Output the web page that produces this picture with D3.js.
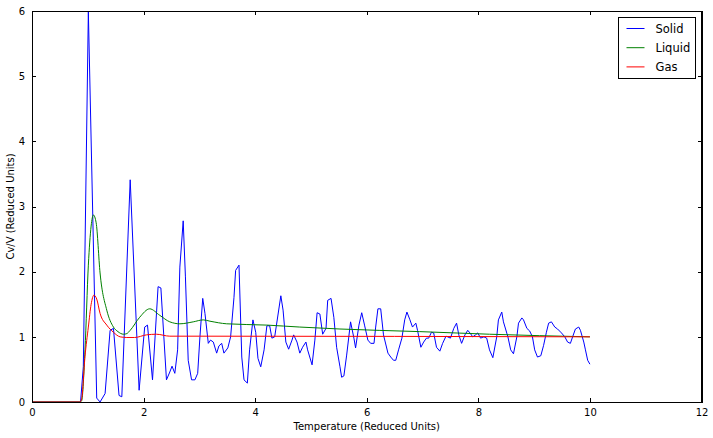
<!DOCTYPE html>
<html lang="en">
<head>
    <meta charset="UTF-8">
    <title>Cv/V vs Temperature</title>
    <script src="https://d3js.org/d3.v7.min.js"></script>
    <style>
        body {
            margin: 0;
            background: #ffffff;
            font-family: "DejaVu Sans", sans-serif;
        }
        .axis text {
            font-family: "DejaVu Sans", sans-serif;
            font-size: 10px;
            fill: #000;
        }
        .axis path, .axis line {
            stroke: #000;
            shape-rendering: crispEdges;
        }
    </style>
</head>
<body>
<script>
    // [temperature, Cv/V]
    const solid = [
        [0, 0], [0.84, 0], [0.87, 0], [0.92, 0.54], [1.01, 5.99], [1.16, 0.06], [1.22, 0], [1.31, 0.13],
        [1.40, 1.1], [1.46, 1.13], [1.56, 0.1], [1.61, 0.08], [1.76, 3.41], [1.92, 0.18], [2.02, 1.15],
        [2.07, 1.18], [2.16, 0.34], [2.26, 1.77], [2.31, 1.75], [2.41, 0.34], [2.47, 0.46], [2.51, 0.55],
        [2.56, 0.44], [2.61, 0.8], [2.65, 2.07], [2.71, 2.78], [2.75, 1.92], [2.80, 0.64], [2.86, 0.34],
        [2.92, 0.34], [2.97, 0.44], [3.01, 1.0], [3.06, 1.59], [3.10, 1.36], [3.16, 0.9], [3.20, 0.95],
        [3.25, 0.92], [3.31, 0.75], [3.35, 0.86], [3.40, 0.9], [3.44, 0.75], [3.51, 0.83], [3.56, 1.0],
        [3.62, 1.6], [3.65, 2.02], [3.71, 2.1], [3.76, 0.69], [3.80, 0.34], [3.86, 0.29], [3.90, 0.8],
        [3.96, 1.26], [4.01, 1.07], [4.05, 0.67], [4.10, 0.54], [4.16, 0.8], [4.21, 1.17], [4.26, 1.17],
        [4.30, 0.98], [4.35, 1.0], [4.46, 1.63], [4.50, 1.41], [4.55, 0.92], [4.60, 0.81], [4.66, 0.95],
        [4.69, 1.03], [4.75, 0.92], [4.80, 0.75], [4.85, 0.84], [4.91, 0.92], [4.94, 0.8], [5.02, 0.57],
        [5.07, 0.95], [5.11, 1.37], [5.16, 1.35], [5.21, 1.04], [5.27, 1.13], [5.30, 1.56], [5.36, 1.59],
        [5.41, 1.3], [5.46, 0.84], [5.52, 0.54], [5.55, 0.38], [5.59, 0.4], [5.64, 0.72], [5.71, 1.23],
        [5.77, 0.98], [5.80, 0.83], [5.86, 1.18], [5.91, 1.37], [5.96, 1.18], [6.02, 0.95], [6.07, 0.9],
        [6.13, 0.9], [6.16, 1.15], [6.20, 1.43], [6.25, 1.43], [6.30, 1.03], [6.38, 0.75], [6.43, 0.69],
        [6.48, 0.64], [6.52, 0.64], [6.57, 0.8], [6.63, 0.98], [6.68, 1.26], [6.72, 1.38], [6.77, 1.27],
        [6.82, 1.15], [6.88, 1.21], [6.91, 1.1], [6.97, 0.84], [7.02, 0.92], [7.07, 0.98], [7.11, 0.98],
        [7.16, 1.07], [7.20, 1.06], [7.25, 0.84], [7.31, 0.78], [7.36, 0.9], [7.42, 1.01], [7.45, 1.0],
        [7.50, 0.98], [7.56, 1.13], [7.61, 1.21], [7.65, 1.03], [7.70, 0.9], [7.76, 1.03], [7.81, 1.1],
        [7.85, 1.06], [7.90, 1.0], [7.95, 1.03], [7.99, 1.06], [8.04, 0.98], [8.10, 1.0], [8.15, 0.98],
        [8.20, 0.8], [8.26, 0.68], [8.33, 1.0], [8.36, 1.26], [8.42, 1.38], [8.45, 1.23], [8.53, 1.0],
        [8.58, 0.8], [8.63, 0.74], [8.69, 1.0], [8.72, 1.21], [8.78, 1.29], [8.81, 1.26], [8.87, 1.13],
        [8.92, 1.09], [8.97, 1.0], [9.01, 0.8], [9.06, 0.69], [9.12, 0.71], [9.17, 0.87], [9.22, 1.07],
        [9.26, 1.21], [9.31, 1.23], [9.37, 1.15], [9.42, 1.12], [9.49, 1.06], [9.55, 1.0], [9.60, 0.92],
        [9.65, 0.9], [9.69, 1.0], [9.74, 1.12], [9.80, 1.15], [9.83, 1.1], [9.89, 0.92], [9.92, 0.8],
        [9.96, 0.64], [10.0, 0.58]
    ];

    const liquid = [
        [0, 0], [0.86, 0], [0.89, 0.02], [0.95, 0.8], [1.01, 2.1], [1.06, 2.7], [1.10, 2.87], [1.15, 2.75],
        [1.22, 1.98], [1.34, 1.41], [1.46, 1.15], [1.54, 1.08], [1.64, 1.04], [1.70, 1.05], [1.76, 1.1],
        [1.93, 1.3], [2.11, 1.43], [2.29, 1.33], [2.47, 1.23], [2.65, 1.2], [2.89, 1.23], [3.07, 1.26],
        [3.19, 1.24], [3.49, 1.2], [4.21, 1.18], [4.80, 1.15], [5.52, 1.12], [6.95, 1.08], [8.20, 1.04],
        [10.0, 1.0]
    ];

    const gas = [
        [0, 0], [0.86, 0], [0.89, 0.05], [0.95, 0.7], [1.01, 1.15], [1.06, 1.5], [1.11, 1.64], [1.16, 1.58],
        [1.22, 1.36], [1.34, 1.18], [1.46, 1.07], [1.58, 1.0], [1.70, 0.99], [1.84, 0.99], [2.05, 1.03],
        [2.23, 1.04], [2.47, 1.01], [3.0, 1.01], [10.0, 1.0]
    ];

    const seriesNames = ["Solid", "Liquid", "Gas"];
    const seriesColors = ["#0000ff", "#008000", "#ff0000"];
    const xTicks = [0, 2, 4, 6, 8, 10, 12];
    const yTicks = [0, 1, 2, 3, 4, 5, 6];

    const width = 713, height = 438;
    const margin = {top: 11, right: 11.5, bottom: 36, left: 32};
    const w = width - margin.left - margin.right;
    const h = height - margin.top - margin.bottom;

    const svg = d3.select("body").append("svg")
        .attr("width", width)
        .attr("height", height);

    const g = svg.append("g")
        .attr("transform", `translate(${margin.left},${margin.top})`);

    const x = d3.scaleLinear().domain([0, 12]).range([0, w]);
    const y = d3.scaleLinear().domain([0, 6]).range([h, 0]);

    // lines
    const line = d3.line()
        .x(d => x(d[0]))
        .y(d => y(d[1]));
    const smooth = d3.line()
        .x(d => x(d[0]))
        .y(d => y(d[1]))
        .curve(d3.curveMonotoneX);

    [solid, liquid, gas].forEach((data, i) => {
        g.append("path")
            .datum(data)
            .attr("fill", "none")
            .attr("stroke", seriesColors[i])
            .attr("stroke-width", 1)
            .attr("stroke-linejoin", "round")
            .attr("d", i === 0 ? line : smooth);
    });

    // axes, ticks pointing inward on all four sides
    g.append("g")
        .attr("class", "axis")
        .attr("transform", `translate(0,${h})`)
        .call(d3.axisBottom(x).tickValues(xTicks).tickFormat(d3.format("d"))
            .tickSizeInner(-4).tickSizeOuter(0).tickPadding(7));
    g.append("g")
        .attr("class", "axis")
        .call(d3.axisTop(x).tickValues(xTicks).tickFormat("")
            .tickSizeInner(-4).tickSizeOuter(0));
    g.append("g")
        .attr("class", "axis")
        .call(d3.axisLeft(y).tickValues(yTicks).tickFormat(d3.format("d"))
            .tickSizeInner(-4).tickSizeOuter(0).tickPadding(7));
    g.append("g")
        .attr("class", "axis")
        .attr("transform", `translate(${w},0)`)
        .call(d3.axisRight(y).tickValues(yTicks).tickFormat("")
            .tickSizeInner(-4).tickSizeOuter(0));

    g.append("rect")
        .attr("width", w)
        .attr("height", h)
        .attr("fill", "none")
        .attr("stroke", "#000")
        .attr("shape-rendering", "crispEdges");

    // axis titles
    svg.append("text")
        .attr("x", margin.left + w / 2)
        .attr("y", 430)
        .attr("text-anchor", "middle")
        .style("font-size", "10px")
        .text("Temperature (Reduced Units)");

    svg.append("text")
        .attr("transform", `translate(14,${margin.top + h / 2}) rotate(-90)`)
        .attr("text-anchor", "middle")
        .style("font-size", "10px")
        .text("Cv/V (Reduced Units)");

    // legend
    const legend = svg.append("g").attr("transform", "translate(618.5,17.5)");
    legend.append("rect")
        .attr("width", 77)
        .attr("height", 61)
        .attr("fill", "#fff")
        .attr("stroke", "#000")
        .attr("shape-rendering", "crispEdges");
    seriesNames.forEach((name, i) => {
        const ly = 11 + i * 19.2;
        legend.append("line")
            .attr("x1", 8).attr("x2", 26)
            .attr("y1", ly).attr("y2", ly)
            .attr("stroke", seriesColors[i]);
        legend.append("text")
            .attr("x", 37)
            .attr("y", ly)
            .attr("dy", "0.36em")
            .style("font-size", "11.5px")
            .text(name);
    });
</script>
</body>
</html>
